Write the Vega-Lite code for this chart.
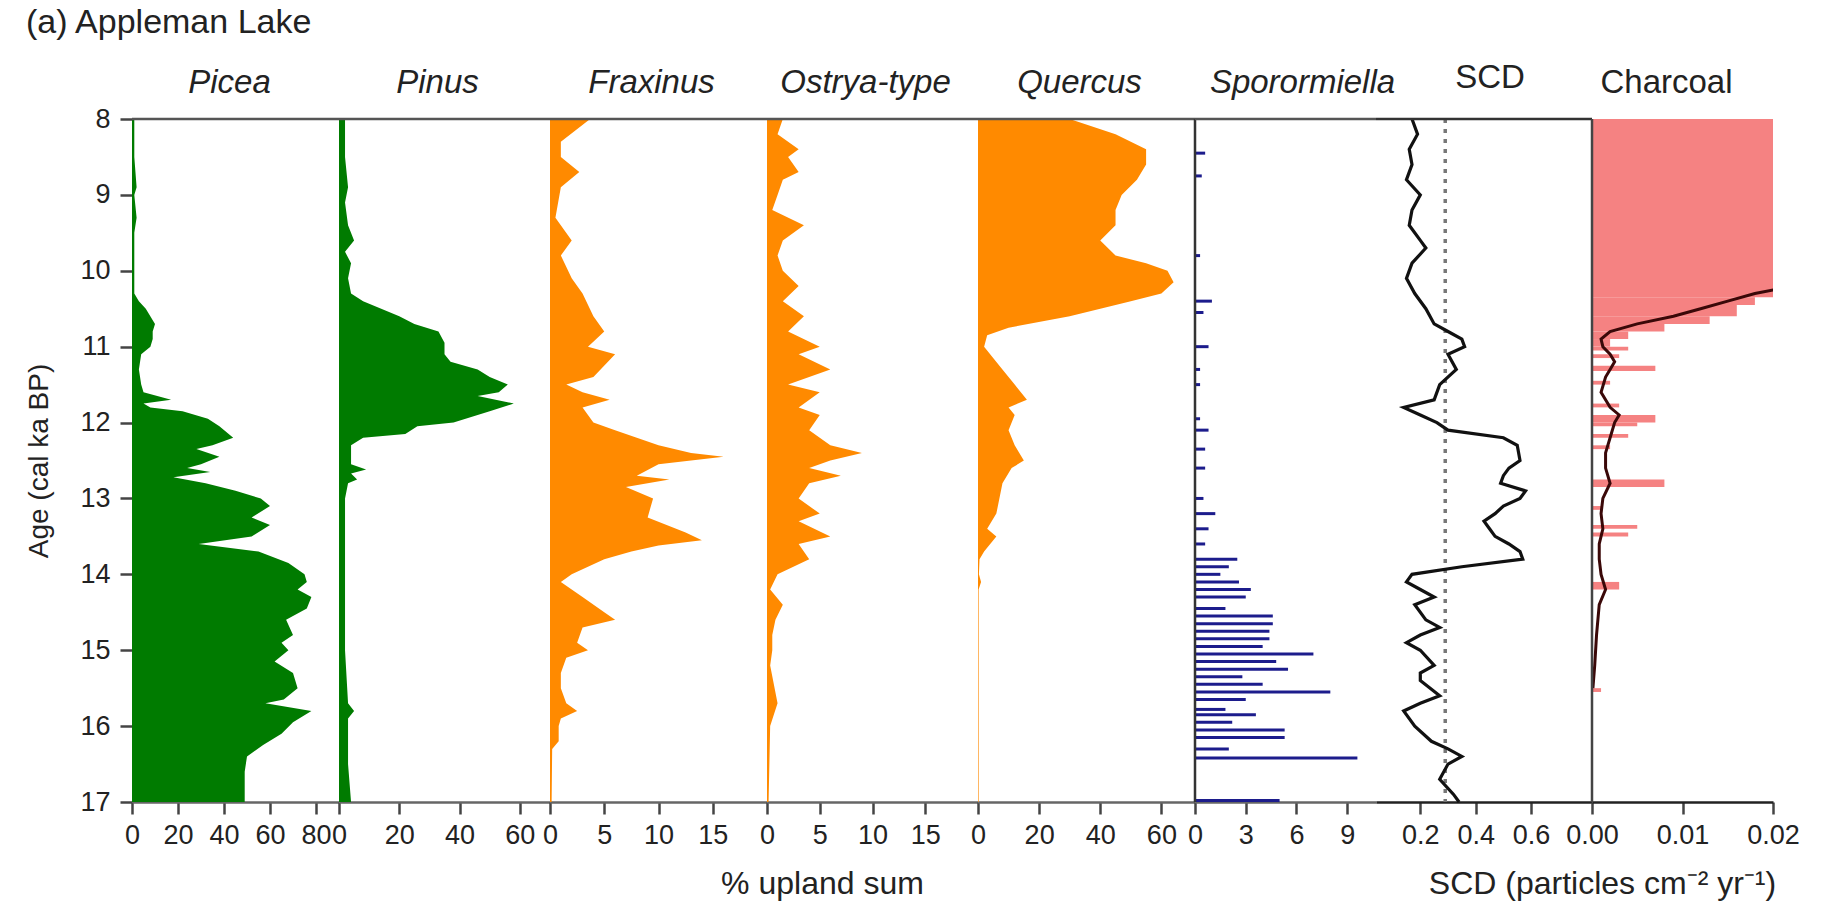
{
"$schema": "https://vega.github.io/schema/vega-lite/v6.json",
"padding": {"left": 25, "top": 5, "right": 30, "bottom": 10},
"background": "white",
"title": {"text": "(a) Appleman Lake", "anchor": "start", "fontSize": 34, "fontWeight": "normal", "font": "Liberation Sans", "color": "#222", "offset": 22},
"datasets": {
"picea": [
{"age":8.0,"value":1},{"age":8.5,"value":1},{"age":8.9,"value":2},{"age":9.0,"value":1},{"age":9.3,"value":2},{"age":9.5,"value":1},{"age":10.0,"value":1},{"age":10.3,"value":1},{"age":10.4,"value":3},{"age":10.5,"value":6},{"age":10.7,"value":10},{"age":10.8,"value":9},{"age":10.9,"value":9},{"age":11.0,"value":8},{"age":11.1,"value":4},{"age":11.3,"value":3},{"age":11.5,"value":4},{"age":11.6,"value":5},{"age":11.7,"value":17},{"age":11.75,"value":5},{"age":11.8,"value":8},{"age":11.85,"value":22},{"age":11.95,"value":33},{"age":12.05,"value":38},{"age":12.2,"value":44},{"age":12.3,"value":35},{"age":12.35,"value":28},{"age":12.45,"value":38},{"age":12.55,"value":30},{"age":12.6,"value":24},{"age":12.65,"value":34},{"age":12.72,"value":18},{"age":12.8,"value":32},{"age":12.9,"value":45},{"age":13.0,"value":56},{"age":13.1,"value":60},{"age":13.25,"value":52},{"age":13.35,"value":60},{"age":13.5,"value":52},{"age":13.6,"value":29},{"age":13.7,"value":55},{"age":13.85,"value":68},{"age":14.0,"value":75},{"age":14.1,"value":76},{"age":14.2,"value":72},{"age":14.3,"value":78},{"age":14.45,"value":76},{"age":14.6,"value":67},{"age":14.8,"value":70},{"age":14.9,"value":65},{"age":15.0,"value":68},{"age":15.15,"value":62},{"age":15.3,"value":70},{"age":15.5,"value":72},{"age":15.65,"value":66},{"age":15.7,"value":58},{"age":15.8,"value":78},{"age":15.95,"value":70},{"age":16.1,"value":65},{"age":16.25,"value":57},{"age":16.4,"value":50},{"age":16.6,"value":49},{"age":17.0,"value":49}
],
"pinus": [
{"age":8.0,"value":2},{"age":8.5,"value":2},{"age":8.9,"value":3},{"age":9.1,"value":2},{"age":9.4,"value":3},{"age":9.6,"value":5},{"age":9.75,"value":2},{"age":9.9,"value":4},{"age":10.1,"value":3},{"age":10.3,"value":4},{"age":10.4,"value":8},{"age":10.5,"value":14},{"age":10.6,"value":20},{"age":10.7,"value":25},{"age":10.8,"value":33},{"age":10.95,"value":35},{"age":11.1,"value":35},{"age":11.2,"value":37},{"age":11.3,"value":46},{"age":11.4,"value":50},{"age":11.5,"value":56},{"age":11.6,"value":53},{"age":11.65,"value":46},{"age":11.75,"value":58},{"age":11.85,"value":50},{"age":11.95,"value":42},{"age":12.0,"value":38},{"age":12.05,"value":26},{"age":12.15,"value":22},{"age":12.2,"value":8},{"age":12.3,"value":4},{"age":12.55,"value":4},{"age":12.62,"value":9},{"age":12.67,"value":4},{"age":12.75,"value":6},{"age":12.8,"value":3},{"age":13.0,"value":2},{"age":14.0,"value":2},{"age":15.0,"value":2},{"age":15.7,"value":3},{"age":15.8,"value":5},{"age":15.9,"value":3},{"age":16.5,"value":3},{"age":17.0,"value":4}
],
"fraxinus": [
{"age":8.0,"value":3.7},{"age":8.3,"value":1},{"age":8.5,"value":1},{"age":8.7,"value":2.7},{"age":8.9,"value":1},{"age":9.3,"value":0.5},{"age":9.6,"value":2},{"age":9.8,"value":1},{"age":10.1,"value":2},{"age":10.3,"value":3},{"age":10.6,"value":4},{"age":10.8,"value":5},{"age":11.0,"value":3.5},{"age":11.1,"value":6},{"age":11.4,"value":4},{"age":11.5,"value":1.5},{"age":11.6,"value":3},{"age":11.7,"value":5.5},{"age":11.8,"value":3},{"age":12.0,"value":4},{"age":12.1,"value":6},{"age":12.2,"value":8},{"age":12.3,"value":10},{"age":12.4,"value":13},{"age":12.45,"value":16},{"age":12.55,"value":10},{"age":12.7,"value":8},{"age":12.75,"value":11},{"age":12.85,"value":7},{"age":13.0,"value":9.5},{"age":13.25,"value":9},{"age":13.45,"value":12.5},{"age":13.55,"value":14},{"age":13.62,"value":10},{"age":13.7,"value":7.5},{"age":13.8,"value":5},{"age":14.0,"value":2},{"age":14.1,"value":1},{"age":14.3,"value":3},{"age":14.5,"value":5},{"age":14.6,"value":6},{"age":14.7,"value":3},{"age":14.9,"value":2.5},{"age":15.0,"value":3.5},{"age":15.1,"value":1.5},{"age":15.3,"value":1},{"age":15.5,"value":1},{"age":15.7,"value":1.5},{"age":15.8,"value":2.5},{"age":15.9,"value":1},{"age":16.0,"value":0.8},{"age":16.2,"value":0.8},{"age":16.3,"value":0.2},{"age":17.0,"value":0.15}
],
"ostrya": [
{"age":8.0,"value":1.5},{"age":8.2,"value":1},{"age":8.4,"value":3},{"age":8.5,"value":2},{"age":8.7,"value":3},{"age":8.8,"value":1.5},{"age":9.0,"value":1},{"age":9.2,"value":0.5},{"age":9.4,"value":3.5},{"age":9.6,"value":1.5},{"age":9.8,"value":1},{"age":10.0,"value":1.5},{"age":10.2,"value":3},{"age":10.4,"value":1.5},{"age":10.6,"value":3.5},{"age":10.8,"value":2},{"age":11.0,"value":5},{"age":11.1,"value":3},{"age":11.3,"value":6},{"age":11.4,"value":4},{"age":11.5,"value":2},{"age":11.6,"value":5},{"age":11.8,"value":3},{"age":11.9,"value":5},{"age":12.1,"value":4},{"age":12.3,"value":6},{"age":12.4,"value":9},{"age":12.5,"value":6},{"age":12.6,"value":4},{"age":12.7,"value":7},{"age":12.8,"value":4},{"age":13.0,"value":3},{"age":13.2,"value":5},{"age":13.3,"value":3},{"age":13.5,"value":6},{"age":13.6,"value":3},{"age":13.8,"value":4},{"age":14.0,"value":1},{"age":14.2,"value":0.3},{"age":14.4,"value":1.5},{"age":14.6,"value":0.8},{"age":14.8,"value":0.5},{"age":15.0,"value":0.5},{"age":15.2,"value":0.3},{"age":15.7,"value":1},{"age":16.0,"value":0.3},{"age":17.0,"value":0.15}
],
"quercus": [
{"age":8.0,"value":30},{"age":8.2,"value":45},{"age":8.4,"value":55},{"age":8.6,"value":55},{"age":8.8,"value":52},{"age":9.0,"value":47},{"age":9.2,"value":45},{"age":9.4,"value":45},{"age":9.6,"value":40},{"age":9.8,"value":45},{"age":9.9,"value":55},{"age":10.0,"value":62},{"age":10.15,"value":64},{"age":10.3,"value":60},{"age":10.4,"value":50},{"age":10.5,"value":40},{"age":10.6,"value":30},{"age":10.75,"value":10},{"age":10.85,"value":3},{"age":11.0,"value":2},{"age":11.3,"value":8},{"age":11.5,"value":12},{"age":11.7,"value":16},{"age":11.8,"value":10},{"age":11.9,"value":12},{"age":12.1,"value":10},{"age":12.3,"value":12},{"age":12.5,"value":15},{"age":12.6,"value":11},{"age":12.8,"value":8},{"age":13.0,"value":7},{"age":13.2,"value":6},{"age":13.4,"value":3},{"age":13.5,"value":6},{"age":13.6,"value":4},{"age":13.7,"value":2},{"age":13.8,"value":0.5},{"age":14.0,"value":0.3},{"age":14.1,"value":1},{"age":14.2,"value":0.2},{"age":17.0,"value":0.2}
],
"sporo": [
{"age":8.45,"value":0.6},{"age":8.75,"value":0.4},{"age":9.8,"value":0.3},{"age":10.4,"value":1.0},{"age":10.55,"value":0.5},{"age":11.0,"value":0.8},{"age":11.3,"value":0.3},{"age":11.5,"value":0.3},{"age":11.95,"value":0.3},{"age":12.1,"value":0.8},{"age":12.35,"value":0.6},{"age":12.6,"value":0.6},{"age":13.0,"value":0.5},{"age":13.2,"value":1.2},{"age":13.4,"value":0.8},{"age":13.6,"value":0.6},{"age":13.8,"value":2.5},{"age":13.9,"value":2.0},{"age":14.0,"value":1.5},{"age":14.1,"value":2.6},{"age":14.2,"value":3.3},{"age":14.3,"value":3.0},{"age":14.45,"value":1.8},{"age":14.55,"value":4.6},{"age":14.65,"value":4.6},{"age":14.75,"value":4.4},{"age":14.85,"value":4.4},{"age":14.95,"value":4.0},{"age":15.05,"value":7.0},{"age":15.15,"value":4.8},{"age":15.25,"value":5.5},{"age":15.35,"value":2.8},{"age":15.45,"value":4.0},{"age":15.55,"value":8.0},{"age":15.65,"value":3.0},{"age":15.78,"value":1.8},{"age":15.85,"value":3.6},{"age":15.95,"value":2.2},{"age":16.05,"value":5.3},{"age":16.15,"value":5.3},{"age":16.3,"value":2.0},{"age":16.42,"value":9.6},{"age":16.98,"value":5.0}
],
"scd": [
{"age":8.0,"value":0.17},{"age":8.2,"value":0.19},{"age":8.4,"value":0.16},{"age":8.6,"value":0.17},{"age":8.8,"value":0.15},{"age":9.0,"value":0.2},{"age":9.2,"value":0.17},{"age":9.4,"value":0.16},{"age":9.6,"value":0.2},{"age":9.7,"value":0.22},{"age":9.9,"value":0.17},{"age":10.1,"value":0.15},{"age":10.3,"value":0.18},{"age":10.5,"value":0.22},{"age":10.7,"value":0.25},{"age":10.8,"value":0.3},{"age":10.9,"value":0.35},{"age":11.0,"value":0.36},{"age":11.1,"value":0.3},{"age":11.3,"value":0.33},{"age":11.5,"value":0.27},{"age":11.7,"value":0.25},{"age":11.8,"value":0.14},{"age":11.9,"value":0.2},{"age":12.0,"value":0.26},{"age":12.1,"value":0.3},{"age":12.2,"value":0.5},{"age":12.3,"value":0.55},{"age":12.5,"value":0.56},{"age":12.6,"value":0.52},{"age":12.7,"value":0.5},{"age":12.8,"value":0.49},{"age":12.9,"value":0.58},{"age":13.0,"value":0.56},{"age":13.1,"value":0.5},{"age":13.2,"value":0.47},{"age":13.3,"value":0.43},{"age":13.4,"value":0.45},{"age":13.5,"value":0.47},{"age":13.6,"value":0.52},{"age":13.7,"value":0.56},{"age":13.8,"value":0.57},{"age":13.9,"value":0.35},{"age":14.0,"value":0.17},{"age":14.1,"value":0.15},{"age":14.2,"value":0.2},{"age":14.3,"value":0.25},{"age":14.4,"value":0.18},{"age":14.6,"value":0.22},{"age":14.7,"value":0.27},{"age":14.8,"value":0.2},{"age":14.9,"value":0.15},{"age":15.0,"value":0.2},{"age":15.2,"value":0.25},{"age":15.3,"value":0.2},{"age":15.4,"value":0.2},{"age":15.6,"value":0.27},{"age":15.7,"value":0.2},{"age":15.8,"value":0.14},{"age":16.0,"value":0.18},{"age":16.2,"value":0.24},{"age":16.3,"value":0.3},{"age":16.4,"value":0.35},{"age":16.5,"value":0.3},{"age":16.7,"value":0.27},{"age":16.9,"value":0.32},{"age":17.0,"value":0.34}
],
"charbars": [
{"a1":8.0,"a2":10.35,"value":0.02},{"a1":10.35,"a2":10.45,"value":0.018},{"a1":10.45,"a2":10.6,"value":0.016},{"a1":10.6,"a2":10.7,"value":0.013},{"a1":10.7,"a2":10.8,"value":0.008},{"a1":10.8,"a2":10.9,"value":0.004},{"a1":10.9,"a2":11.0,"value":0.002},{"a1":11.0,"a2":11.05,"value":0.004},{"a1":11.1,"a2":11.15,"value":0.003},{"a1":11.25,"a2":11.32,"value":0.007},{"a1":11.45,"a2":11.5,"value":0.002},{"a1":11.75,"a2":11.8,"value":0.003},{"a1":11.9,"a2":12.0,"value":0.007},{"a1":12.0,"a2":12.05,"value":0.005},{"a1":12.15,"a2":12.2,"value":0.004},{"a1":12.3,"a2":12.35,"value":0.002},{"a1":12.75,"a2":12.85,"value":0.008},{"a1":13.1,"a2":13.15,"value":0.001},{"a1":13.35,"a2":13.4,"value":0.005},{"a1":13.45,"a2":13.5,"value":0.004},{"a1":14.1,"a2":14.2,"value":0.003},{"a1":15.5,"a2":15.55,"value":0.001}
],
"charline": [
{"age":10.25,"value":0.0201},{"age":10.3,"value":0.018},{"age":10.4,"value":0.015},{"age":10.5,"value":0.012},{"age":10.6,"value":0.009},{"age":10.7,"value":0.005},{"age":10.8,"value":0.002},{"age":10.9,"value":0.001},{"age":11.0,"value":0.0012},{"age":11.1,"value":0.002},{"age":11.2,"value":0.0025},{"age":11.3,"value":0.002},{"age":11.4,"value":0.0015},{"age":11.6,"value":0.001},{"age":11.8,"value":0.002},{"age":11.9,"value":0.003},{"age":12.0,"value":0.0025},{"age":12.2,"value":0.002},{"age":12.4,"value":0.0015},{"age":12.6,"value":0.0015},{"age":12.8,"value":0.002},{"age":13.0,"value":0.0012},{"age":13.2,"value":0.001},{"age":13.4,"value":0.0012},{"age":13.6,"value":0.0008},{"age":13.8,"value":0.0008},{"age":14.0,"value":0.001},{"age":14.2,"value":0.0015},{"age":14.4,"value":0.0008},{"age":14.8,"value":0.0005},{"age":15.2,"value":0.0003},{"age":15.5,"value":0.0001}
],
"top": [{"age": 8}],
"zero": [{"value": 0}],
"threshold": [{"value": 0.29}]
},
"spacing": 0,
"bounds": "flush",
"hconcat": [
{
"width": 207, "height": 683,
"title": {"text": "Picea", "fontStyle": "italic", "dx": -6, "offset": 5},
"layer": [
{"data": {"name": "picea"}, "mark": {"type": "area", "orient": "horizontal", "color": "#007b00"},
 "encoding": {
  "y": {"field": "age", "type": "quantitative", "scale": {"domain": [8, 17], "reverse": true, "nice": false, "zero": false},
        "axis": {"values": [8,9,10,11,12,13,14,15,16,17], "format": "d", "title": "Age (cal ka BP)", "domain": false, "labelPadding": 10, "titlePadding": 26, "titleFontSize": 28}},
  "x": {"field": "value", "type": "quantitative", "scale": {"domain": [0, 90], "nice": false}, "axis": {"values": [0,20,40,60,80], "title": null}}
 }},
{"data": {"name": "top"}, "mark": {"type": "rule", "color": "#555", "strokeWidth": 2.5}, "encoding": {"y": {"field": "age", "type": "quantitative"}}}
]
},
{
"width": 211, "height": 683,
"title": {"text": "Pinus", "fontStyle": "italic", "dx": -7},
"layer": [
{"data": {"name": "pinus"}, "mark": {"type": "area", "orient": "horizontal", "color": "#007b00"},
 "encoding": {
  "y": {"field": "age", "type": "quantitative", "scale": {"domain": [8, 17], "reverse": true, "nice": false, "zero": false}, "axis": null},
  "x": {"field": "value", "type": "quantitative", "scale": {"domain": [0, 70], "nice": false}, "axis": {"values": [0,20,40,60], "title": null}}
 }},
{"data": {"name": "top"}, "mark": {"type": "rule", "color": "#555", "strokeWidth": 2.5}, "encoding": {"y": {"field": "age", "type": "quantitative"}}}
]
},
{
"width": 217, "height": 683,
"title": {"text": "Fraxinus", "fontStyle": "italic", "dx": -7},
"layer": [
{"data": {"name": "fraxinus"}, "mark": {"type": "area", "orient": "horizontal", "color": "#ff8a00"},
 "encoding": {
  "y": {"field": "age", "type": "quantitative", "scale": {"domain": [8, 17], "reverse": true, "nice": false, "zero": false}, "axis": null},
  "x": {"field": "value", "type": "quantitative", "scale": {"domain": [0, 20], "nice": false}, "axis": {"values": [0,5,10,15], "title": null}}
 }},
{"data": {"name": "top"}, "mark": {"type": "rule", "color": "#555", "strokeWidth": 2.5}, "encoding": {"y": {"field": "age", "type": "quantitative"}}}
]
},
{
"width": 211, "height": 683,
"title": {"text": "Ostrya-type", "fontStyle": "italic", "dx": -7},
"layer": [
{"data": {"name": "ostrya"}, "mark": {"type": "area", "orient": "horizontal", "color": "#ff8a00"},
 "encoding": {
  "y": {"field": "age", "type": "quantitative", "scale": {"domain": [8, 17], "reverse": true, "nice": false, "zero": false}, "axis": null},
  "x": {"field": "value", "type": "quantitative", "scale": {"domain": [0, 20], "nice": false}, "axis": {"values": [0,5,10,15], "title": "% upland sum", "titleX": 55, "titleAlign": "center", "titlePadding": 20}}
 }},
{"data": {"name": "top"}, "mark": {"type": "rule", "color": "#555", "strokeWidth": 2.5}, "encoding": {"y": {"field": "age", "type": "quantitative"}}}
]
},
{
"width": 217, "height": 683,
"title": {"text": "Quercus", "fontStyle": "italic", "dx": -7},
"layer": [
{"data": {"name": "quercus"}, "mark": {"type": "area", "orient": "horizontal", "color": "#ff8a00"},
 "encoding": {
  "y": {"field": "age", "type": "quantitative", "scale": {"domain": [8, 17], "reverse": true, "nice": false, "zero": false}, "axis": null},
  "x": {"field": "value", "type": "quantitative", "scale": {"domain": [0, 71], "nice": false}, "axis": {"values": [0,20,40,60], "title": null}}
 }},
{"data": {"name": "top"}, "mark": {"type": "rule", "color": "#555", "strokeWidth": 2.5}, "encoding": {"y": {"field": "age", "type": "quantitative"}}}
]
},
{
"width": 181, "height": 683,
"title": {"text": "Sporormiella", "fontStyle": "italic", "dx": 17},
"layer": [
{"data": {"name": "sporo"}, "mark": {"type": "rule", "color": "#1c1c8c", "strokeWidth": 3},
 "encoding": {
  "y": {"field": "age", "type": "quantitative", "scale": {"domain": [8, 17], "reverse": true, "nice": false, "zero": false}, "axis": null},
  "x": {"field": "value", "type": "quantitative", "scale": {"domain": [0, 10.7], "nice": false}, "axis": {"values": [0,3,6,9], "title": null}},
  "x2": {"datum": 0}
 }},
{"data": {"name": "zero"}, "mark": {"type": "rule", "color": "#333", "strokeWidth": 2.5}, "encoding": {"x": {"field": "value", "type": "quantitative"}}},
{"data": {"name": "top"}, "mark": {"type": "rule", "color": "#555", "strokeWidth": 2.5}, "encoding": {"y": {"field": "age", "type": "quantitative"}}}
]
},
{
"width": 216, "height": 683,
"title": {"text": "SCD", "fontStyle": "normal", "dx": 6},
"layer": [
{"data": {"name": "threshold"}, "mark": {"type": "rule", "color": "#777", "strokeWidth": 3.5, "strokeDash": [4, 6]}, "encoding": {"x": {"field": "value", "type": "quantitative"}}},
{"data": {"name": "scd"}, "mark": {"type": "line", "color": "#111", "strokeWidth": 3.2},
 "encoding": {
  "y": {"field": "age", "type": "quantitative", "scale": {"domain": [8, 17], "reverse": true, "nice": false, "zero": false}, "axis": null},
  "x": {"field": "value", "type": "quantitative", "scale": {"domain": [0.04, 0.82], "nice": false, "zero": false}, "axis": {"values": [0.2,0.4,0.6], "format": ".1f", "title": null, "domainColor": "#222"}},
  "order": {"field": "age", "type": "quantitative"}
 }},
{"data": {"name": "top"}, "mark": {"type": "rule", "color": "#333", "strokeWidth": 2.5}, "encoding": {"y": {"field": "age", "type": "quantitative"}}}
]
},
{
"width": 181, "height": 683,
"title": {"text": "Charcoal", "fontStyle": "normal", "dx": -16},
"layer": [
{"data": {"name": "charbars"}, "mark": {"type": "rect", "color": "#f58282", "clip": true},
 "encoding": {
  "y": {"field": "a1", "type": "quantitative", "scale": {"domain": [8, 17], "reverse": true, "nice": false, "zero": false}, "axis": null},
  "y2": {"field": "a2"},
  "x": {"field": "value", "type": "quantitative", "scale": {"domain": [0, 0.02], "nice": false}, "axis": {"values": [0,0.01,0.02], "format": ".2f", "title": "SCD  (particles cm⁻² yr⁻¹)", "titleX": 10, "titleAlign": "center", "titlePadding": 20, "domainColor": "#222"}},
  "x2": {"datum": 0}
 }},
{"data": {"name": "charline"}, "mark": {"type": "line", "color": "#3a0808", "strokeWidth": 3, "clip": true},
 "encoding": {
  "y": {"field": "age", "type": "quantitative"},
  "x": {"field": "value", "type": "quantitative"},
  "order": {"field": "age", "type": "quantitative"}
 }},
{"data": {"name": "zero"}, "mark": {"type": "rule", "color": "#444", "strokeWidth": 2.5}, "encoding": {"x": {"field": "value", "type": "quantitative"}}}
]
}
],
"config": {
 "font": "Liberation Sans",
 "view": {"stroke": null},
 "title": {"fontSize": 33, "fontWeight": "normal", "color": "#222", "offset": 18, "anchor": "middle", "font": "Liberation Sans"},
 "axis": {"labelFont": "Liberation Sans", "labelFontSize": 27, "labelColor": "#222", "titleFont": "Liberation Sans", "titleFontSize": 32, "titleFontWeight": "normal", "titleColor": "#222", "domainColor": "#666", "domainWidth": 2.5, "tickColor": "#444", "tickWidth": 2.5, "tickSize": 12, "grid": false, "labelPadding": 8, "labelOverlap": false, "labelFlush": false, "labelBound": false}
}
}
